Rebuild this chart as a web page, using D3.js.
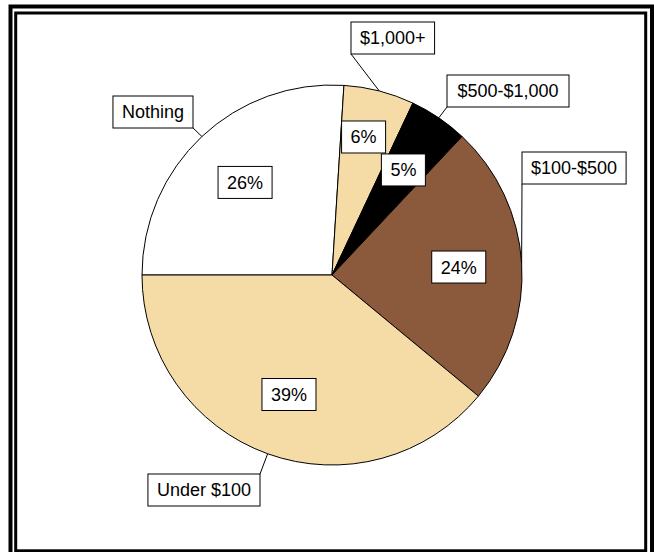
<!DOCTYPE html>
<html>
<head>
<meta charset="utf-8">
<script src="https://cdn.jsdelivr.net/npm/d3@7"></script>
<style>
  html, body { margin: 0; padding: 0; background: #fff; }
  svg { display: block; }
  text { font-family: "Liberation Sans", Arial, Helvetica, sans-serif; fill: #000; }
</style>
</head>
<body>
<svg id="chart" width="654" height="552"></svg>
<script>
// Spending categories, drawn clockwise starting from 9 o'clock
const categories = ["Nothing", "$1,000+", "$500-$1,000", "$100-$500", "Under $100"];
const shares = [26, 6, 5, 24, 39];
const sliceColors = ["#ffffff", "#f5dba6", "#000000", "#8b5a3c", "#f5dba6"];

const cx = 332, cy = 275, R = 190;
const fontSize = 18;
const padX = 9, boxH = 32;

const svg = d3.select("#chart");

// double frame
svg.append("rect").attr("x", 10.5).attr("y", 6.5).attr("width", 641.5).attr("height", 560)
  .attr("fill", "none").attr("stroke", "#000").attr("stroke-width", 4);
svg.append("rect").attr("x", 15.7).attr("y", 13).attr("width", 630).attr("height", 537.8)
  .attr("fill", "none").attr("stroke", "#000").attr("stroke-width", 3);

const data = categories.map((c, i) => ({ name: c, value: shares[i], color: sliceColors[i] }));

const pie = d3.pie().value(d => d.value).sort(null)
  .startAngle(-Math.PI / 2).endAngle(3 * Math.PI / 2);
const arcs = pie(data);

const arc = d3.arc().innerRadius(0).outerRadius(R);
const pctArc = d3.arc().innerRadius(127).outerRadius(127);
const edgeArc = d3.arc().innerRadius(R).outerRadius(R);

const g = svg.append("g").attr("transform", `translate(${cx},${cy})`);

g.selectAll("path.slice").data(arcs).join("path")
  .attr("class", "slice")
  .attr("d", arc)
  .attr("fill", d => d.data.color)
  .attr("stroke", "#000")
  .attr("stroke-width", 1)
  .attr("stroke-linejoin", "round");

function measure(parent, str) {
  const tmp = parent.append("text").style("font-size", fontSize + "px").text(str);
  const w = tmp.node().getComputedTextLength();
  tmp.remove();
  return w;
}

// boxed text centred at (x, y)
function boxedText(parent, x, y, str, minW) {
  const w = Math.max(measure(parent, str) + 2 * padX, minW || 0);
  const grp = parent.append("g");
  grp.append("rect")
    .attr("x", x - w / 2).attr("y", y - boxH / 2).attr("width", w).attr("height", boxH)
    .attr("fill", "#fff").attr("stroke", "#000").attr("stroke-width", 1);
  grp.append("text")
    .attr("x", x).attr("y", y)
    .attr("text-anchor", "middle")
    .attr("dy", "0.36em")
    .style("font-size", fontSize + "px")
    .text(str);
}

// percentage labels inside slices
const pctNudge = { "$1,000+": [0, -15] };
arcs.forEach(a => {
  const [px, py] = pctArc.centroid(a);
  const n = pctNudge[a.data.name] || [0, 0];
  boxedText(g, px + n[0], py + n[1], a.data.value + "%");
});

// category callouts: box corner that the leader line meets
const callout = {
  "Nothing":     { corner: [193, 128], side: "br" },
  "$1,000+":     { corner: [351, 54],  side: "bl" },
  "$500-$1,000": { corner: [447, 107], side: "bl", minW: 122 },
  "$100-$500":   { corner: [522, 184], side: "bl" },
  "Under $100":  { corner: [260, 474], side: "tr" }
};

const lab = svg.append("g");
arcs.forEach(a => {
  const c = callout[a.data.name];
  const [ex, ey] = edgeArc.centroid(a);
  lab.append("line")
    .attr("x1", cx + ex).attr("y1", cy + ey)
    .attr("x2", c.corner[0]).attr("y2", c.corner[1])
    .attr("stroke", "#000").attr("stroke-width", 1);
  const w = Math.max(measure(lab, a.data.name) + 2 * padX, c.minW || 0);
  const bx = c.side.includes("l") ? c.corner[0] : c.corner[0] - w;
  const by = c.side.includes("t") ? c.corner[1] : c.corner[1] - boxH;
  boxedText(lab, bx + w / 2, by + boxH / 2, a.data.name, c.minW);
});
</script>
</body>
</html>
